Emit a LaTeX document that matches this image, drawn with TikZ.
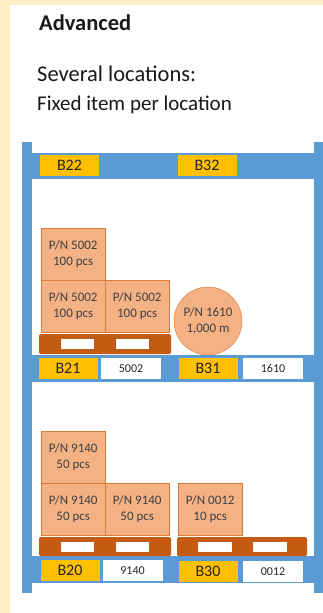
\documentclass[tikz,border=0pt]{standalone}
\usepackage{fontspec}
\setmainfont{Carlito}
\usepackage{xcolor}
\usepackage{tikz}
\usetikzlibrary{positioning}

\definecolor{rackblue}{HTML}{5B9BD5}
\definecolor{locgold}{HTML}{FFC000}
\definecolor{cratefill}{HTML}{F4B183}
\definecolor{crateedge}{HTML}{DC7B3A}
\definecolor{palletbrown}{HTML}{C55A11}
\definecolor{bgyellow}{HTML}{FFEFC6}

\begin{document}
\begin{tikzpicture}[x=1pt,y=-1pt,
    loc/.style={fill=locgold, minimum width=59pt, minimum height=21pt, inner sep=0pt, text=black!85, font=\fontsize{16}{16}\selectfont},
    tag/.style={fill=white, minimum width=60pt, minimum height=21pt, inner sep=0pt, text=black!85, font=\fontsize{12}{12}\selectfont},
    crate/.style={draw=crateedge, fill=cratefill, anchor=north west, minimum width=64pt, minimum height=52pt, inner sep=0pt, align=center, text=black!75, font=\fontsize{13}{16}\selectfont},
    pallet/.style={fill=palletbrown, rounded corners=1.5pt},
    slot/.style={fill=white},
    heading/.style={anchor=base west, inner sep=0pt, text=black!90}]
    \useasboundingbox (0,0) rectangle (323,613);
    \fill[bgyellow] (0,0) rectangle (323,613);
    \fill[white] (10,5) rectangle (323,613);

    % Titles
    \node[heading, font=\fontsize{22.5}{22.5}\selectfont\bfseries] (title) at (39,30) {Advanced};
    \node[heading, font=\fontsize{22.5}{22.5}\selectfont] (sub1) at (37,81) {Several locations:};
    \node[heading, font=\fontsize{21}{21}\selectfont] (sub2) at (37,110) {Fixed item per location};

    % Rack: uprights and beams
    \fill[rackblue] (22,142) rectangle (32,593);
    \fill[rackblue] (314,142) rectangle (323,593);
    \fill[rackblue] (32,153) rectangle (314,179); % top beam
    \fill[rackblue] (32,355) rectangle (314,382); % middle beam
    \fill[rackblue] (32,556) rectangle (314,583); % bottom beam

    % Location labels
    \node[loc] (b22) at (69.5,165.5) {B22};
    \node[loc] (b32) at (207,165.5) {B32};
    \node[loc] (b21) at (68,368.5) {B21};
    \node[tag] (t5002) at (131,368.5) {5002};
    \node[loc] (b31) at (208,368.5) {B31};
    \node[tag] (t1610) at (273,368.5) {1610};
    \node[loc] (b20) at (70,570.5) {B20};
    \node[tag] (t9140) at (132.5,570.5) {9140};
    \node[loc] (b30) at (208,571.5) {B30};
    \node[tag] (t0012) at (273,571.5) {0012};

    % Upper level: pallet B21 and coil B31
    \fill[pallet] (39,334) rectangle (171,354);
    \fill[slot] (61,339) rectangle (94,349);
    \fill[slot] (116,339) rectangle (149,349);
    \node[crate] (p5002c) at (41,228) {P/N 5002\\100 pcs};
    \node[crate] (p5002a) at (41,280) {P/N 5002\\100 pcs};
    \node[crate] (p5002b) at (105,280) {P/N 5002\\100 pcs};
    \node[circle, draw=crateedge, fill=cratefill, minimum size=68pt, inner sep=0pt, align=center, text=black!75, font=\fontsize{13}{16}\selectfont] (p1610) at (208,321) {P/N 1610\\1,000 m};

    % Lower level: pallets B20 and B30
    \fill[pallet] (39,537) rectangle (171,556);
    \fill[slot] (61,542) rectangle (94,552);
    \fill[slot] (116,542) rectangle (149,552);
    \fill[pallet] (177,537) rectangle (307,556);
    \fill[slot] (198,542) rectangle (232,552);
    \fill[slot] (253,542) rectangle (287,552);
    \node[crate] (p9140c) at (41,431) {P/N 9140\\50 pcs};
    \node[crate] (p9140a) at (41,483) {P/N 9140\\50 pcs};
    \node[crate] (p9140b) at (105,483) {P/N 9140\\50 pcs};
    \node[crate] (p0012) at (178,483) {P/N 0012\\10 pcs};
\end{tikzpicture}
\end{document}
